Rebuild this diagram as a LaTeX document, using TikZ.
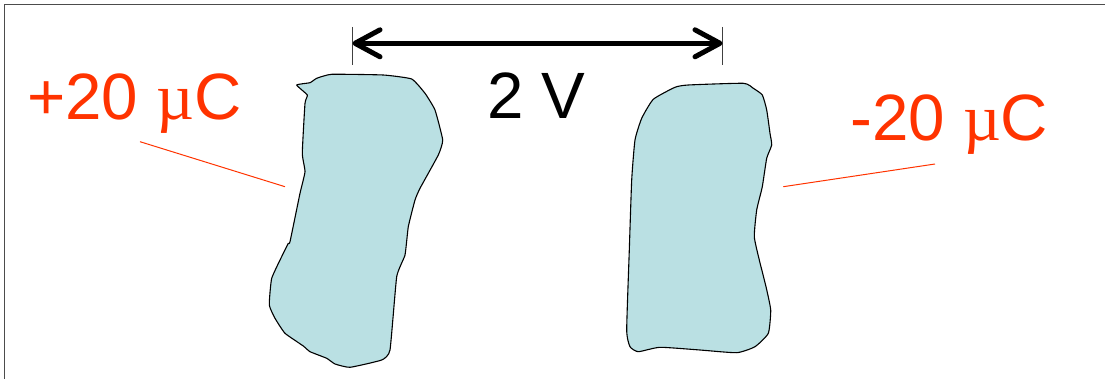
\documentclass[tikz,border=0pt]{standalone}
\usepackage{fontspec}
\setmainfont{Liberation Sans}
\newfontfamily\mufont{Liberation Serif}
\usetikzlibrary{arrows.meta}
\definecolor{plate}{HTML}{BAE0E3}
\definecolor{charge}{HTML}{FF3300}
\tikzset{
  platebody/.style={fill=plate, draw=black, line width=1.1pt, line join=round},
  bigtext/.style={font=\fontsize{65.5}{70}\selectfont, inner sep=0pt, anchor=base west},
  leader/.style={draw=charge, line width=1pt},
  tick/.style={draw=black!75, line width=1.2pt},
  span/.style={line width=5pt, {Straight Barb[length=25pt, width=27pt, line cap=round, round]}-{Straight Barb[length=25pt, width=27pt, line cap=round, round]}}
}
\begin{document}
\begin{tikzpicture}[x=1pt, y=-1pt]
\useasboundingbox (0,0) rectangle (1105,379);
% frame
\draw[draw=black!70, line width=1.5pt] (4.5,379) -- (4.5,4.5) -- (1105,4.5);
% left plate
\path[platebody] plot[smooth cycle, tension=0.25] coordinates {
 (296.7,85) (310,82.7) (316.7,78.3) (331.7,74.3) (383.3,75) (411.7,79) (425,93.3)
 (435,110) (442.7,140) (438.3,155) (420,188.3) (415,200) (408.3,226.7) (405,255)
 (396.7,276.7) (390,350) (381.7,360) (350,367.3) (335,364) (326.7,358.3) (310,351.7)
 (303.3,346) (285,333.3) (275,318.3) (269.3,305) (271.7,278.3) (283.3,253.3)
 (288.3,243.3) (290,241.7) (300,193.3) (305,171.7) (302.3,153.3) (305,103.3) (307.3,95)};
% right plate
\path[platebody] plot[smooth cycle, tension=0.3] coordinates {
 (653.3,99.3) (675,87.3) (688.3,85) (743.3,83.3) (753.3,88.3) (762.3,95) (766.7,110)
 (770,133.3) (771.7,145) (766.7,158.3) (762.3,186.7) (756.7,210) (754.3,236.7)
 (759.3,260) (766,286.7) (770.7,310) (768.3,333.3) (755,346.7) (736.7,352.7)
 (700,350) (660,347.3) (638.3,351.7) (630,346.7) (626.7,330) (629.3,250)
 (631.7,180) (635,140) (641.7,118.3)};
% distance arrow
\coordinate (tl) at (352.5,43.3);
\coordinate (tr) at (722.5,43.3);
\draw[tick] (352.5,27) -- (352.5,65);
\draw[tick] (722.5,27) -- (722.5,65);
\draw[span] (tl) -- (tr);
% labels
\node[bigtext] (v) at (487,118.5) {2 V};
\node[bigtext, text=charge] (qp) at (27,119.5) {+20 {\mufont µ}C};
\node[bigtext, text=charge] (qm) at (850,140.5) {-20 {\mufont µ}C};
% leaders
\coordinate (lp1) at (140,141.7);
\coordinate (lp2) at (285,186.7);
\coordinate (lm1) at (783.3,186.7);
\coordinate (lm2) at (935,164);
\draw[leader] (lp1) -- (lp2);
\draw[leader] (lm1) -- (lm2);
\end{tikzpicture}
\end{document}
